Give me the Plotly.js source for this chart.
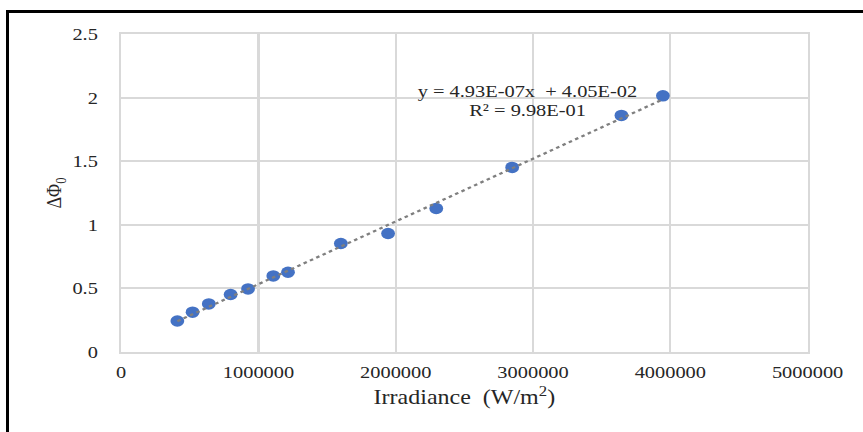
<!DOCTYPE html>
<html>
<head>
<meta charset="utf-8">
<script src="https://cdn.plot.ly/plotly-3.0.1.min.js"></script>
<style>
  html, body { margin: 0; padding: 0; background: #fff; overflow: hidden; }
  #chart {
    position: absolute; left: 0; top: 0;
    width: 719px; height: 432px;
    transform: scaleX(1.2); transform-origin: 0 0;
  }
  #frame {
    position: absolute; left: 6px; top: 10px;
    width: 900px; height: 500px;
    border-left: 3px solid #000; border-top: 3px solid #000;
    pointer-events: none;
  }
</style>
</head>
<body>
<div id="chart"></div>
<div id="frame"></div>
<script>
// Measured irradiance (W/m^2) and the resulting phase shift ΔΦ0
const irradiance = [409000, 520000, 638000, 797000, 924000, 1108000, 1215000,
                    1600000, 1944000, 2295000, 2848000, 3644000, 3946000];
const deltaPhi   = [0.244, 0.313, 0.378, 0.452, 0.496, 0.598, 0.627,
                    0.853, 0.932, 1.128, 1.451, 1.860, 2.014];

// Linear least-squares fit reported for the series
const fitSlope = [4.93e-7];
const fitIntercept = [4.05e-2];
const fitR2 = [9.98e-1];

const xTicks = [0, 1000000, 2000000, 3000000, 4000000, 5000000];
const yTicks = [0, 0.5, 1, 1.5, 2, 2.5];

const fitX = [Math.min(...irradiance), Math.max(...irradiance)];
const fitY = fitX.map(x => fitSlope[0] * x + fitIntercept[0]);

const serif = 'Liberation Serif, Times New Roman, serif';
const grid = '#d9d9d9';
const ink = '#262626';

// Excel-style scientific notation: 4.93E-07
const sci = v => v.toExponential(2).toUpperCase().replace(/E([+-])(\d)$/, 'E$10$2');

const data = [
  {
    x: irradiance, y: deltaPhi,
    type: 'scatter', mode: 'markers',
    marker: { color: '#4472c4', size: 11.5 },
    hoverinfo: 'x+y'
  },
  {
    x: fitX, y: fitY,
    type: 'scatter', mode: 'lines',
    line: { color: '#7f7f7f', width: 2.2, dash: 'dot' },
    hoverinfo: 'skip'
  }
];

const layout = {
  width: 719, height: 432,
  margin: { l: 100.6, r: 45.8, t: 34, b: 80.3 },
  paper_bgcolor: '#fff', plot_bgcolor: '#fff',
  showlegend: false,
  font: { family: serif, color: ink, size: 17 },
  xaxis: {
    range: [0, 5000000],
    tickvals: xTicks, tickformat: 'd',
    ticks: '', ticklabelstandoff: 4,
    showgrid: true, gridcolor: grid, gridwidth: 1.8,
    zeroline: false,
    showline: true, mirror: true, linecolor: grid, linewidth: 2,
    tickfont: { family: serif, size: 17, color: ink },
    title: { text: 'Irradiance\u00a0 (W/m<sup>2</sup>)', standoff: 9,
             font: { family: serif, size: 20, color: ink } }
  },
  yaxis: {
    range: [0, 2.5],
    tickvals: yTicks,
    ticks: '', ticklabelstandoff: 14,
    showgrid: true, gridcolor: grid, gridwidth: 2,
    zeroline: false,
    showline: true, mirror: true, linecolor: grid, linewidth: 2,
    tickfont: { family: serif, size: 17, color: ink },
    title: { text: 'ΔΦ<sub>0</sub>', standoff: 4,
             font: { family: serif, size: 18, color: ink } }
  },
  annotations: [
    {
      x: 2962000, y: 2.046, xref: 'x', yref: 'y',
      text: 'y = ' + sci(fitSlope[0]) + 'x\u00a0 + ' + sci(fitIntercept[0]),
      showarrow: false,
      font: { family: serif, size: 17, color: ink }
    },
    {
      x: 2962000, y: 1.896, xref: 'x', yref: 'y',
      text: 'R² = ' + sci(fitR2[0]),
      showarrow: false,
      font: { family: serif, size: 17, color: ink }
    }
  ]
};

Plotly.newPlot('chart', data, layout, { staticPlot: true, displayModeBar: false });
</script>
</body>
</html>
